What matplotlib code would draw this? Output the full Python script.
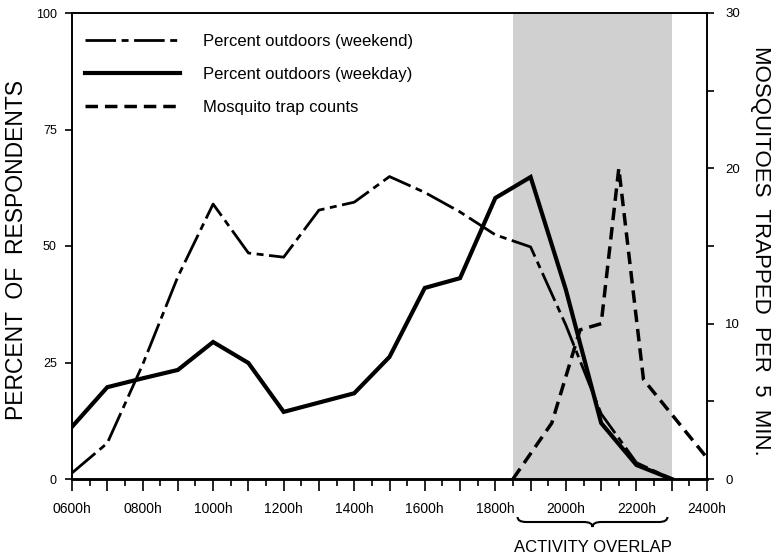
import matplotlib
matplotlib.use("Agg")
import matplotlib.pyplot as plt
from matplotlib.path import Path
from matplotlib.patches import PathPatch
from matplotlib.lines import Line2D
import matplotlib.transforms as mtransforms

plt.rcParams['font.family'] = ['Liberation Sans', 'DejaVu Sans']
plt.rcParams['lines.scale_dashes'] = False

# ---- data ----
hours = [6, 7, 8, 9, 10, 11, 12, 13, 14, 15, 16, 17, 18, 19, 20, 21, 22, 23]
weekday = [11.2, 19.7, 21.6, 23.4, 29.4, 24.9, 14.4, 16.4, 18.4, 26.2, 41.0, 43.1,
           60.3, 64.8, 40.6, 12.0, 3.0, 0.0]
weekend = [1.3, 7.7, 24.5, 43.4, 59.0, 48.5, 47.6, 57.7, 59.4, 64.9, 61.5, 57.3,
           52.4, 49.8, 33.0, 14.0, 3.5, 0.0]
mosq_hours = [18.5, 19.6, 20.4, 21.0, 21.5, 22.2, 23.95]
mosq_counts = [0.0, 3.6, 9.6, 10.0, 20.0, 6.4, 1.5]
overlap = (18.5, 23.0)

xtick_pos = list(range(6, 25))
xtick_labels = ['0600h', '', '0800h', '', '1000h', '', '1200h', '', '1400h', '',
                '1600h', '', '1800h', '', '2000h', '', '2200h', '', '2400h']
left_ticks = [0, 25, 50, 75, 100]
right_ticks = [0, 5, 10, 15, 20, 25, 30]
right_labels = ['0', '', '10', '', '20', '', '30']

legend_labels = ['Percent outdoors (weekend)', 'Percent outdoors (weekday)',
                 'Mosquito trap counts']

# ---- figure ----
W, H = 773, 554
fig = plt.figure(figsize=(W / 100, H / 100), dpi=100)
L, R, T, B = 72, 707, 13, 479
ax = fig.add_axes([L / W, 1 - B / H, (R - L) / W, (B - T) / H])
ax2 = ax.twinx()

ax.set_xlim(6, 24)
ax.set_ylim(0, 100)
ax2.set_ylim(0, 30)

ax.axvspan(overlap[0], overlap[1], color='#d0d0d0', lw=0, zorder=0)

l_we, = ax.plot(hours, weekend, color='black', lw=2.0,
                dashes=(22, 4, 5, 4), solid_capstyle='butt', zorder=3)
l_wd, = ax.plot(hours, weekday, color='black', lw=3.0, zorder=4,
                solid_joinstyle='miter')
l_mq, = ax2.plot(mosq_hours, mosq_counts, color='black', lw=2.5,
                 dashes=(9, 5), zorder=3)

# ticks
ax.set_xticks(xtick_pos)
ax.set_xticklabels(xtick_labels, fontsize=10)
ax.set_xticks([h + 0.5 for h in range(6, 24)], minor=True)
ax.tick_params(axis='x', which='major', direction='out', length=8.5, width=1.2, pad=8)
ax.tick_params(axis='x', which='minor', direction='out', length=5, width=1.2)
ax.set_yticks(left_ticks)
ax.set_yticklabels([str(v) for v in left_ticks], fontsize=9)
ax.tick_params(axis='y', direction='out', length=5, width=1.2, pad=6)
ax2.set_yticks(right_ticks)
ax2.set_yticklabels(right_labels, fontsize=9.5)
ax2.tick_params(axis='y', direction='out', length=5, width=1.2, pad=8)

for a in (ax, ax2):
    for s in a.spines.values():
        s.set_linewidth(1.2)
ax.spines['bottom'].set_linewidth(1.8)
ax2.spines['bottom'].set_linewidth(1.8)

# axis titles
fig.text(17 / W, 1 - 250 / H, 'PERCENT  OF  RESPONDENTS', rotation=90,
         ha='center', va='center', fontsize=16.5)
fig.text(761 / W, 1 - 251 / H, 'MOSQUITOES  TRAPPED  PER  5  MIN.', rotation=-90,
         ha='center', va='center', fontsize=16)

# legend
handles = [Line2D([], [], color='black', lw=2.0, dashes=(22, 4, 5, 4)),
           Line2D([], [], color='black', lw=3.0),
           Line2D([], [], color='black', lw=2.5, dashes=(9, 5))]
ax.legend(handles, legend_labels, loc='upper left', bbox_to_anchor=(0.02, 0.956),
          frameon=False, fontsize=12, handlelength=5.7, handletextpad=1.4,
          labelspacing=1.1, borderpad=0, borderaxespad=0)

# brace for activity overlap
trans = mtransforms.blended_transform_factory(ax.transData, ax.transAxes)
x0, x1 = 18.63, 22.88
xm = (x0 + x1) / 2
def ya(px):
    return (B - px) / (B - T)
yt, yl, yb = ya(517), ya(522), ya(527)
r = 0.25
verts = [(x0, yt), (x0, yl), (x0 + r, yl),
         (xm - r, yl),
         (xm, yl), (xm, yb),
         (xm, yl), (xm + r, yl),
         (x1 - r, yl),
         (x1, yl), (x1, yt)]
codes = [Path.MOVETO, Path.CURVE3, Path.CURVE3,
         Path.LINETO,
         Path.CURVE3, Path.CURVE3,
         Path.CURVE3, Path.CURVE3,
         Path.LINETO,
         Path.CURVE3, Path.CURVE3]
brace = PathPatch(Path(verts, codes), transform=trans, fill=False, lw=1.5,
                  color='black', clip_on=False)
ax.add_patch(brace)
ax.text(xm, ya(547), 'ACTIVITY OVERLAP', transform=trans, ha='center', va='center',
        fontsize=12, clip_on=False)

fig.savefig('out.png', dpi=100)
